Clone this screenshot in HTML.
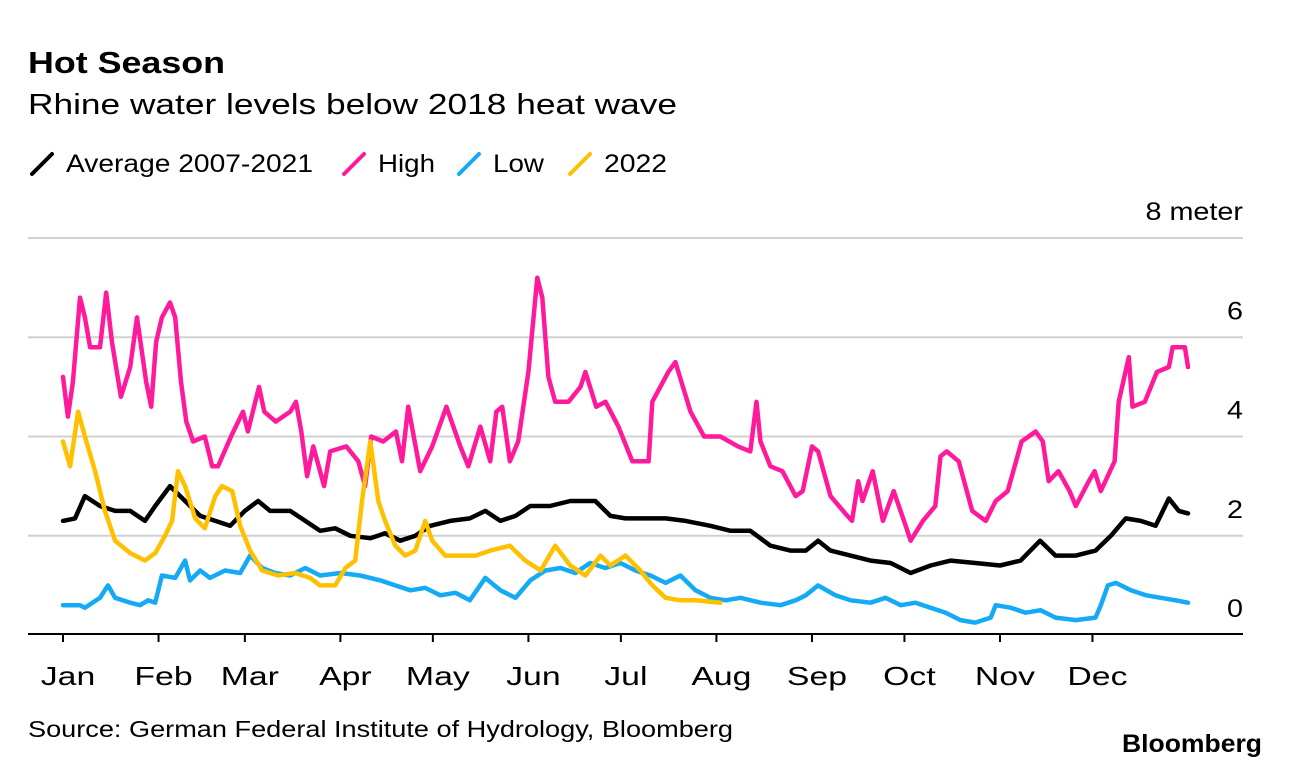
<!DOCTYPE html>
<html><head><meta charset="utf-8">
<style>
body{margin:0;background:#fff;font-family:"Liberation Sans",sans-serif;}
svg text{font-family:"Liberation Sans",sans-serif;}
</style></head>
<body>
<svg id="chart" width="1289" height="768" viewBox="0 0 1289 768" xmlns="http://www.w3.org/2000/svg">
<text x="28" y="73" font-size="31" font-weight="bold" fill="#000" textLength="197" lengthAdjust="spacingAndGlyphs">Hot Season</text>
<text x="28" y="114" font-size="29" fill="#000" textLength="649" lengthAdjust="spacingAndGlyphs">Rhine water levels below 2018 heat wave</text>
<g id="legend"></g>
<g id="grid"></g>
<g id="yaxis"></g>
<g id="xaxis"></g>
<g id="series"></g>
<text x="28" y="737" font-size="23" fill="#000" textLength="705" lengthAdjust="spacingAndGlyphs">Source: German Federal Institute of Hydrology, Bloomberg</text>
<text x="1122" y="752" font-size="25" font-weight="bold" fill="#000" textLength="140" lengthAdjust="spacingAndGlyphs">Bloomberg</text>
</svg>
<script>
const monthLabels=["Jan","Feb","Mar","Apr","May","Jun","Jul","Aug","Sep","Oct","Nov","Dec"];
const monthStarts=[0,31,59,90,120,151,181,212,243,273,304,334];
const yTicks=[0,2,4,6,8];
const legendLabels=["Average 2007-2021","High","Low","2022"];
const highDays=[0,1.6,3.2,5.5,7.1,8.8,12,14,15.9,18.8,21.8,24,27,28.6,30.2,32.1,34.7,36.4,38.3,40,42.2,46,48.4,50.3,54.5,58.4,60,63.6,65.3,69,73.7,75.6,77.3,79.2,81.2,84.7,86.7,91.9,95.8,98,100,103.9,108,110,112,115.9,119.8,124.4,128.9,131.5,135.4,138.6,140.6,142.5,145,147.7,151,153.9,155.5,157.5,159.7,164,167.9,169.5,173,176,180.2,184.7,190,191.2,196.4,198.7,203.6,208,213.3,219,223,225,226.3,229.5,233.4,237.7,240,243,245,249,254.5,256,258,259.4,262.7,266,269.5,273.4,275,279,283,284.7,286.7,290.6,295,299.4,302.6,306.5,311,315.6,317.9,319.8,323,326.6,328.6,332.8,334.7,336.7,341.2,342.5,345.8,347,351,354.9,358.8,360,364,365];
const highVals=[5.2,4.4,5.1,6.8,6.4,5.8,5.8,6.9,5.9,4.8,5.4,6.4,5.1,4.6,5.9,6.4,6.7,6.4,5.1,4.3,3.9,4.0,3.4,3.4,4.0,4.5,4.1,5.0,4.5,4.3,4.5,4.7,4.1,3.2,3.8,3.0,3.7,3.8,3.5,3.0,4.0,3.9,4.1,3.5,4.6,3.3,3.8,4.6,3.8,3.4,4.2,3.5,4.5,4.6,3.5,3.9,5.3,7.2,6.8,5.2,4.7,4.7,5.0,5.3,4.6,4.7,4.2,3.5,3.5,4.7,5.3,5.5,4.5,4.0,4.0,3.8,3.7,4.7,3.9,3.4,3.3,2.8,2.9,3.8,3.7,2.8,2.4,2.3,3.1,2.7,3.3,2.3,2.9,2.2,1.9,2.3,2.6,3.6,3.7,3.5,2.5,2.3,2.7,2.9,3.9,4.1,3.9,3.1,3.3,2.9,2.6,3.1,3.3,2.9,3.5,4.7,5.6,4.6,4.7,5.3,5.4,5.8,5.8,5.4];
const avgDays=[0,3.9,7.1,12,16.9,21.8,26.6,29.9,34.7,39.6,44.5,49.4,54.2,59,63.3,67.2,73.7,78.6,83.4,88.3,93.2,99.7,104.5,109.4,114.3,119.2,125.6,132,137,141.9,146.8,151.6,158,164.6,172.7,177.6,182.5,189,195.5,202,210,216.6,223,229.5,236,241,245,249,255.5,262,268.5,275,281.5,288,296,304,310.7,317,322,328.6,335,340,344.8,349.7,354.5,358.8,362,365];
const avgVals=[2.3,2.35,2.8,2.6,2.5,2.5,2.3,2.6,3.0,2.7,2.4,2.3,2.2,2.5,2.7,2.5,2.5,2.3,2.1,2.15,2.0,1.95,2.05,1.9,2.0,2.2,2.3,2.35,2.5,2.3,2.4,2.6,2.6,2.7,2.7,2.4,2.35,2.35,2.35,2.3,2.2,2.1,2.1,1.8,1.7,1.7,1.9,1.7,1.6,1.5,1.45,1.25,1.4,1.5,1.45,1.4,1.5,1.9,1.6,1.6,1.7,2.0,2.35,2.3,2.2,2.75,2.5,2.45];
const lowDays=[0,5.5,7.1,12,14.6,16.9,21.8,25,27.6,29.9,32.1,36.4,39.6,41.2,44.5,47.7,52.6,57.5,60.7,64.6,68.8,73.7,78.6,83.4,90,96.4,103,107.8,112.7,117.5,122.4,127.3,132,137,141.9,146.8,151.6,156.5,161.4,166.2,171,175.9,180.8,185.7,190.6,195.5,200.3,205.2,210,215,219.8,226.3,232.8,237.7,241,245,250.6,255.5,262,266.9,271.8,276.6,281.5,286.4,291.2,296,301,302.6,307.5,312.3,317.2,322,328.6,335,336.7,339,341.6,346.5,351.4,356.2,361,365];
const lowVals=[0.6,0.6,0.55,0.75,1.0,0.75,0.65,0.6,0.7,0.65,1.2,1.15,1.5,1.1,1.3,1.15,1.3,1.25,1.6,1.35,1.25,1.2,1.35,1.2,1.25,1.2,1.1,1.0,0.9,0.95,0.8,0.85,0.7,1.15,0.9,0.75,1.1,1.3,1.35,1.25,1.45,1.35,1.45,1.3,1.2,1.05,1.2,0.9,0.75,0.7,0.75,0.65,0.6,0.7,0.8,1.0,0.8,0.7,0.65,0.75,0.6,0.65,0.55,0.45,0.3,0.25,0.35,0.6,0.55,0.45,0.5,0.35,0.3,0.35,0.6,1.0,1.05,0.9,0.8,0.75,0.7,0.65];
const y22Days=[0,2.3,4.9,7.1,10.4,13.6,16.9,21.8,26.6,29.9,33.1,35.4,37.3,39.6,42.9,46,49.4,51.6,54.9,57.5,60.7,64.6,69.8,75.3,80.2,83.4,88.3,91.6,94.8,97,99.7,102.3,104.5,107.8,111,114.3,117.5,119.8,124,128.9,133.8,138.6,145,150,155,159.7,164.6,169.5,174.4,177.6,182.5,187.3,191.2,195.5,200.3,205.2,213.3];
const y22Vals=[3.9,3.4,4.5,4.0,3.3,2.5,1.9,1.65,1.5,1.65,2.0,2.3,3.3,3.0,2.35,2.15,2.8,3.0,2.9,2.2,1.7,1.3,1.2,1.25,1.15,1.0,1.0,1.35,1.5,2.7,3.9,2.7,2.3,1.8,1.6,1.7,2.3,1.9,1.6,1.6,1.6,1.7,1.8,1.5,1.3,1.8,1.4,1.2,1.6,1.4,1.6,1.3,1.0,0.75,0.7,0.7,0.65];

const NS="http://www.w3.org/2000/svg";
const X0=63,X1=1188,Y0=635,Y8=238;
function xs(d){return X0+d*(X1-X0)/365;}
function ys(v){return Y0+(Y8-Y0)*v/8;}
function mk(tag,attrs,parent){const e=document.createElementNS(NS,tag);for(const k in attrs)e.setAttribute(k,attrs[k]);parent.appendChild(e);return e;}
function widen(t,f){const w=t.getComputedTextLength();t.setAttribute('textLength',(w*f).toFixed(1));t.setAttribute('lengthAdjust','spacingAndGlyphs');}

const colors=["#000000","#ff1a9c","#14aaf5","#ffc000"];
const swatchX=[30,342,457,568];
const legendW=[247,57,51,63];
const lg=document.getElementById('legend');
legendLabels.forEach((t,i)=>{
  const l=mk('line',{x1:swatchX[i]+2,y1:174,x2:swatchX[i]+22,y2:154,stroke:colors[i],'stroke-width':4,'stroke-linecap':'round'},lg);
  
  
  const tx=mk('text',{x:swatchX[i]+36,y:172,'font-size':25,fill:'#000',textLength:legendW[i],lengthAdjust:'spacingAndGlyphs'},lg);
  tx.textContent=t;
  
  
});

const g=document.getElementById('grid'),ya=document.getElementById('yaxis');
yTicks.forEach(v=>{
  if(v>0){const l=mk('line',{x1:28,x2:1243,y1:ys(v),y2:ys(v),stroke:'#d0d0d0','stroke-width':2},g);
  
  }
  const t=mk('text',{x:1243,y:ys(v)-18,'font-size':25,'text-anchor':'end',fill:'#000'},ya);
  t.textContent=v===8?'8 meter':String(v);
  
  
  widen(t,1.15);
});
const xa=document.getElementById('xaxis');
const ax=mk('line',{x1:28,x2:1243,y1:634,y2:634,stroke:'#000','stroke-width':2},xa);


monthStarts.forEach((d,i)=>{
  const tk=mk('line',{x1:xs(d),x2:xs(d),y1:634,y2:642,stroke:'#000','stroke-width':2},xa);
  
  
  const t=mk('text',{x:xs(d)+5,y:685,'font-size':26,'text-anchor':'middle',fill:'#000'},xa);
  t.textContent=monthLabels[i];
  
  
  widen(t,1.3);
});

const sg=document.getElementById('series');
const sets=[[lowDays,lowVals,colors[2],'low-line'],[avgDays,avgVals,colors[0],'average-line'],[highDays,highVals,colors[1],'high-line'],[y22Days,y22Vals,colors[3],'line-2022']];
sets.forEach(s=>{
  const pts=s[0].map((d,i)=>xs(d).toFixed(1)+','+ys(s[1][i]).toFixed(1)).join(' ');
  const p=mk('polyline',{points:pts,fill:'none',stroke:s[2],'stroke-width':4.5,'stroke-linejoin':'round','stroke-linecap':'round'},sg);
  
  
});
</script>
</body></html>
